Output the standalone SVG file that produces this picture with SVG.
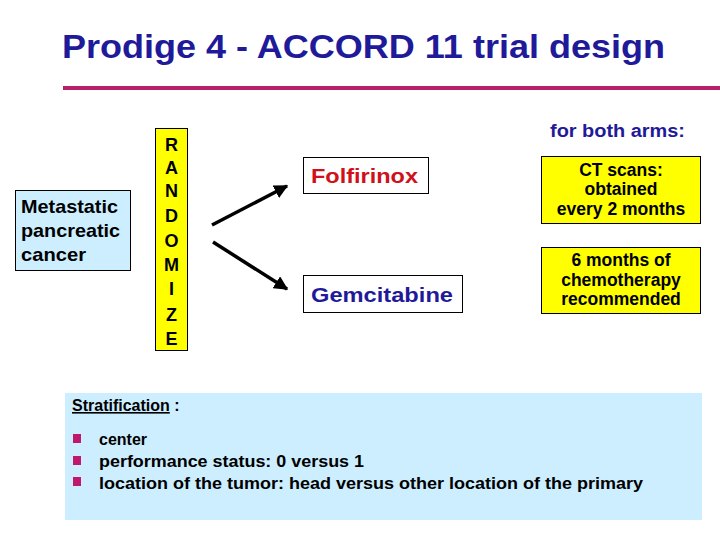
<svg xmlns="http://www.w3.org/2000/svg" width="720" height="540" viewBox="0 0 720 540">
<defs>
<marker id="ah" viewBox="0 0 10 10" refX="9" refY="5" markerWidth="4" markerHeight="4" orient="auto" markerUnits="strokeWidth">
<path d="M0,0 L10,5 L0,10 z" fill="#000"/>
</marker>
<style>
text{font-family:"Liberation Sans",Arial,sans-serif;font-weight:bold}
.box{stroke:#000;stroke-width:1}
.yel{fill:#FFFF00}
.blue{fill:#CCEEFF}
.mid{text-anchor:middle;font-size:17.5px;fill:#000}
.navy{fill:#1F1A99}
</style>
</defs>
<rect width="720" height="540" fill="#fff"/>
<g id="title">
<text x="62" y="58" font-size="34" class="navy" textLength="603" lengthAdjust="spacingAndGlyphs">Prodige 4 - ACCORD 11 trial design</text>
<rect x="63" y="86" width="657" height="4" fill="#B8206A"/>
</g>
<g id="metastatic">
<rect x="15.5" y="190.5" width="115" height="80" class="box blue"/>
<text x="21" y="213" font-size="19" fill="#000" textLength="97" lengthAdjust="spacingAndGlyphs">Metastatic</text>
<text x="21" y="237" font-size="19" fill="#000" textLength="99" lengthAdjust="spacingAndGlyphs">pancreatic</text>
<text x="21" y="261" font-size="19" fill="#000" textLength="65" lengthAdjust="spacingAndGlyphs">cancer</text>
</g>
<g id="randomize">
<rect x="155.5" y="128.5" width="32" height="222" class="box yel"/>
<g font-size="18" fill="#000" text-anchor="middle">
<text x="171.5" y="151">R</text>
<text x="171.5" y="174">A</text>
<text x="171.5" y="197">N</text>
<text x="171.5" y="222">D</text>
<text x="171.5" y="247">O</text>
<text x="171.5" y="271">M</text>
<text x="171.5" y="295">I</text>
<text x="171.5" y="321">Z</text>
<text x="171.5" y="345">E</text>
</g>
</g>
<g id="connectors" stroke="#000" stroke-width="3.5" fill="none">
<line x1="212" y1="225" x2="287" y2="186" marker-end="url(#ah)"/>
<line x1="213" y1="242" x2="287" y2="289" marker-end="url(#ah)"/>
</g>
<g id="folfirinox">
<rect x="303.5" y="157.5" width="125" height="36" class="box" fill="#fff"/>
<text x="311" y="183" font-size="20" fill="#D0101A" textLength="107" lengthAdjust="spacingAndGlyphs">Folfirinox</text>
</g>
<g id="gemcitabine">
<rect x="303.5" y="275.5" width="159" height="37" class="box" fill="#fff"/>
<text x="311" y="302" font-size="20" class="navy" textLength="142" lengthAdjust="spacingAndGlyphs">Gemcitabine</text>
</g>
<g id="both-arms">
<text x="550" y="137" font-size="18" class="navy" textLength="135" lengthAdjust="spacingAndGlyphs">for both arms:</text>
</g>
<g id="ct-scans">
<rect x="541.5" y="156.5" width="159" height="67" class="box yel"/>
<text x="621" y="176" class="mid">CT scans:</text>
<text x="621" y="195" class="mid">obtained</text>
<text x="621" y="215" class="mid">every 2 months</text>
</g>
<g id="six-months">
<rect x="541.5" y="247.5" width="159" height="66" class="box yel"/>
<text x="621" y="266" class="mid">6 months of</text>
<text x="621" y="286" class="mid">chemotherapy</text>
<text x="621" y="305" class="mid">recommended</text>
</g>
<g id="stratification">
<rect x="65" y="393" width="637" height="127" fill="#CCEEFF"/>
<text x="72" y="411" font-size="16" fill="#000"><tspan text-decoration="underline">Stratification</tspan> :</text>
<rect x="73" y="434" width="8" height="9" fill="#C0186A"/>
<rect x="73" y="456" width="8" height="9" fill="#C0186A"/>
<rect x="73" y="477" width="8" height="9" fill="#C0186A"/>
<text x="99" y="445" font-size="16" fill="#000">center</text>
<text x="99" y="467" font-size="16" fill="#000" textLength="265" lengthAdjust="spacingAndGlyphs">performance status: 0 versus 1</text>
<text x="99" y="489" font-size="16" fill="#000" textLength="544" lengthAdjust="spacingAndGlyphs">location of the tumor: head versus other location of the primary</text>
</g>
</svg>
